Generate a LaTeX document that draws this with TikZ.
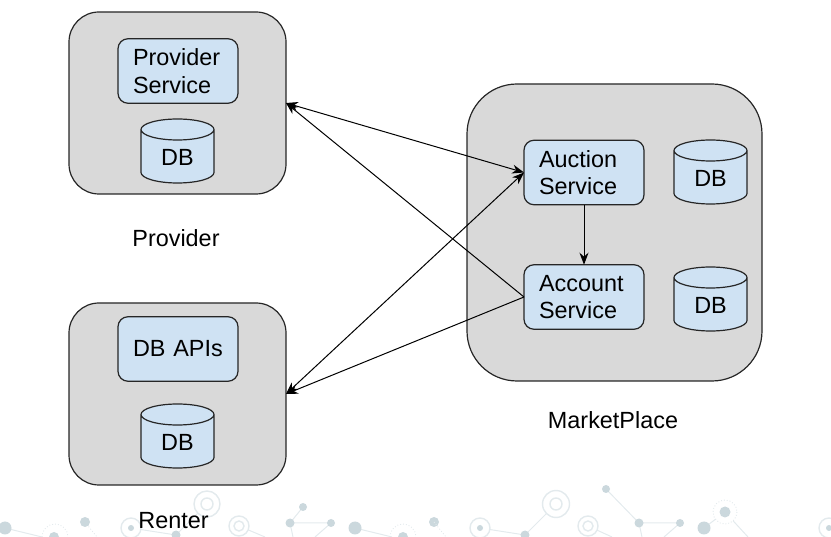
\documentclass[tikz,border=0pt]{standalone}
\usepackage{fontspec}
\setmainfont{Liberation Sans}
\usetikzlibrary{arrows.meta}
\tikzset{
  group/.style={draw=black!85,line width=1.2pt,fill=black!15,rounded corners=30pt,outer sep=0pt,inner sep=0pt},
  svc/.style={draw=black!85,line width=1.2pt,fill=svcblue,rounded corners=10pt,outer sep=0pt,minimum width=120pt,minimum height=64.5pt,text width=90pt,inner xsep=15pt,inner ysep=0pt,align=left,font=\fontsize{23.4}{27.5}\selectfont},
  lbl/.style={font=\fontsize{23.4}{27}\selectfont,inner sep=0pt},
  dbtext/.style={font=\fontsize{23.4}{27}\selectfont,inner sep=0pt},
  cyl/.style={draw=black!85,line width=1.2pt,fill=svcblue},
  link/.style={draw=black,line width=1pt,-{Stealth[length=12pt,width=9pt]}},
  biglink/.style={draw=black,line width=1pt,{Stealth[length=12pt,width=9pt]}-{Stealth[length=12pt,width=9pt]}},
  dec/.style={draw=decline,line width=1pt},
  decdot/.style={fill=decdot,draw=none},
  decring/.style={draw=decline,line width=1.4pt,fill=white},
  decdots/.style={draw=decline,line width=.9pt,dotted},
}
\definecolor{svcblue}{HTML}{CFE2F3}
\definecolor{decline}{HTML}{E3EAED}
\definecolor{decdot}{HTML}{CBD8DD}
% #1 name, #2 centre x, #3 bottom y (the y axis points down, so the lower half runs from 180 to 0)
\newcommand{\dbcyl}[3]{%
  \draw[cyl] (#2-36.5,#3-53.5) -- (#2-36.5,#3-10.5)
     arc[start angle=180,end angle=0,x radius=36.5,y radius=10.5] -- (#2+36.5,#3-53.5)
     arc[start angle=0,end angle=-180,x radius=36.5,y radius=10.5]
     arc[start angle=180,end angle=0,x radius=36.5,y radius=10.5];
  \node[dbtext] (#1) at (#2,#3-26) {DB};}
\begin{document}
\begin{tikzpicture}[x=1pt,y=-1pt]
\useasboundingbox (0,0) rectangle (831,537);
% background decoration
\begin{scope}
\draw[dec] (5,528) -- (42,537);
\draw[decdots] (55,537) circle[radius=13];
\draw[decdots] (85,522) -- (97,537);
\fill[decdot] (5,528) circle[radius=6.5] (54,537) circle[radius=5] (85,522) circle[radius=5];
\draw[dec] (131,528) -- (176,535);
\draw[dec] (176,535) -- (207,504);
\draw[decring] (207,504) circle[radius=13] (207,504) circle[radius=6];
\draw[decring] (131,528) circle[radius=10];
\fill[decdot] (131,528) circle[radius=3] (176,535) circle[radius=4.5];
\draw[dec] (239,526) -- (265,537);
\draw[decring] (239,526) circle[radius=10] (239,526) circle[radius=5];
\draw[dec] (303,507) -- (290,523) -- (331,523) -- (315,537) (290,523) -- (293,537);
\fill[decdot] (303,507) circle[radius=4] (290,523) circle[radius=4.5] (331,523) circle[radius=4];
\draw[dec] (355,528) -- (392,537);
\draw[decdots] (403,537) circle[radius=13];
\fill[decdot] (355,528) circle[radius=6.5] (403,537) circle[radius=5] (434,522) circle[radius=5];
\draw[decdots] (434,522) -- (446,537);
\draw[dec] (480,528) -- (525,535) -- (556,504);
\draw[decring] (556,504) circle[radius=13.5] (556,504) circle[radius=6];
\draw[decring] (480,528) circle[radius=10];
\fill[decdot] (480,528) circle[radius=3] (525,535) circle[radius=4.5];
\draw[dec] (588,526) -- (612,537);
\draw[decring] (588,526) circle[radius=10] (588,526) circle[radius=5];
\draw[dec] (606,489) -- (639,523) -- (680,523) -- (664,537) (639,523) -- (642,537);
\fill[decdot] (606,489) circle[radius=4] (639,523) circle[radius=4.5] (680,523) circle[radius=4];
\draw[dec] (704,528) -- (725,512) -- (748,537);
\draw[decdots,fill=white] (725,512) circle[radius=12];
\fill[decdot] (704,528) circle[radius=6.5] (725,512) circle[radius=5.5];
\draw[decring] (829,528) circle[radius=10];
\fill[decdot] (829,528) circle[radius=3];
\end{scope}
% groups
\node[group,minimum width=217pt,minimum height=182pt] (prov) at (177.5,103) {};
\node[group,minimum width=217pt,minimum height=182pt] (rent) at (177.5,394) {};
\node[group,minimum width=295pt,minimum height=297pt,rounded corners=50pt] (mkt) at (614.5,232.5) {};
% services
\node[svc] (ps) at (178,71) {Provider\\Service};
\node[svc] (dbapi) at (178,349) {\mbox{DB APIs}};
\node[svc] (auction) at (584,172.5) {Auction\\Service};
\node[svc] (account) at (584,297) {Account\\Service};
% databases
\dbcyl{db1}{177.5}{183}
\dbcyl{db2}{177.5}{468}
\dbcyl{db3}{710.5}{204}
\dbcyl{db4}{710.5}{331}
% labels
\node[lbl] (lprov) at (176,238) {Provider};
\node[lbl] (lrent) at (173.5,521) {Renter};
\node[lbl] (lmkt) at (613,420) {MarketPlace};
% connectors
\draw[biglink] (prov.east) -- (auction.west);
\draw[biglink] (rent.east) -- (auction.west);
\draw[link] (account.west) -- (prov.east);
\draw[link] (account.west) -- (rent.east);
\draw[link] (auction.south) -- (account.north);
\end{tikzpicture}
\end{document}
